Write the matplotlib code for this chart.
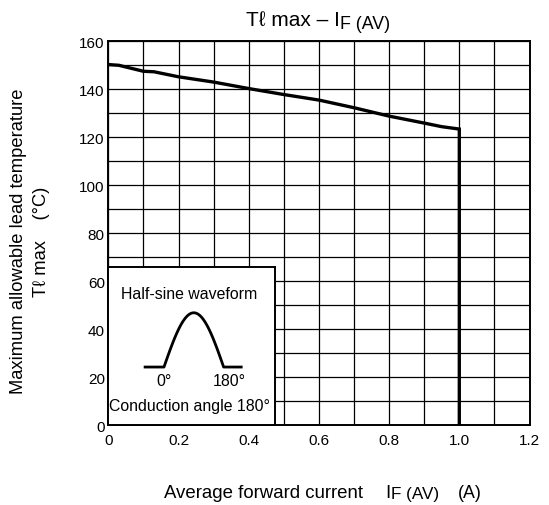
import numpy as np
import matplotlib
matplotlib.use("Agg")
import matplotlib.pyplot as plt

plt.rcParams["font.family"] = ["Liberation Sans", "DejaVu Sans"]

W, H = 549, 506

# derating curve
current = [0, 0.03, 0.1, 0.13, 0.2, 0.3, 0.4, 0.5, 0.6, 0.7, 0.8, 0.9, 0.95, 1.0, 1.0]
lead_temp = [150.3, 150.0, 147.5, 147.3, 145.2, 143.0, 140.3, 137.8, 135.5,
             132.3, 128.8, 125.9, 124.4, 123.4, 0]

x_ticks = [0, 0.2, 0.4, 0.6, 0.8, 1.0, 1.2]
x_tick_labels = ["0", "0.2", "0.4", "0.6", "0.8", "1.0", "1.2"]
y_ticks = [0, 20, 40, 60, 80, 100, 120, 140, 160]

# inset waveform, phase in degrees
wave_phase = [-57, 0, 0, 180, 180, 233]


def pieced_text(fig, x_center, y_base, parts):
    # parts: (text, size, drop in px, gap before in px); placed left to right
    renderer = fig.canvas.get_renderer()
    items = []
    total = 0
    for s, size, drop, gap in parts:
        t = fig.text(0, 0, s, fontsize=size, ha="left", va="baseline")
        w = t.get_window_extent(renderer).width
        items.append((t, drop, gap, w))
        total += gap + w
    x = x_center - total / 2
    for t, drop, gap, w in items:
        x += gap
        t.set_position((x / W, 1 - (y_base + drop) / H))
        x += w


fig = plt.figure(figsize=(W / 100, H / 100), dpi=100)
ax = fig.add_axes([108.3 / W, 1 - 426 / H, 421.2 / W, 383.7 / H])

ax.plot(current, lead_temp, color="black", lw=2.4, solid_joinstyle="miter", zorder=5)

ax.set_xlim(0, 1.2)
ax.set_ylim(0, 160)
ax.set_xticks(x_ticks)
ax.set_xticklabels(x_tick_labels)
ax.set_yticks(y_ticks)
ax.set_xticks(np.arange(0, 1.21, 0.1), minor=True)
ax.set_yticks(np.arange(0, 161, 10), minor=True)
ax.grid(which="both", color="black", lw=0.9)
ax.tick_params(which="both", length=0, labelsize=11, colors="black")
ax.tick_params(axis="x", pad=5.5)
ax.tick_params(axis="y", pad=2.5)
for sp in ax.spines.values():
    sp.set_linewidth(1.4)

pieced_text(fig, 318, 26.5, [("T\u2113 max – I", 15, 0, 0),
                              ("F (AV)", 12.8, 2.5, 0)])
pieced_text(fig, 323, 498, [("Average forward current", 13.4, 0, 0),
                             ("I", 13.4, 0, 22),
                             ("F (AV)", 12.3, 1.5, 0),
                             ("(A)", 12.8, 0, 19)])

fig.text(18.3 / W, 1 - 241 / H, "Maximum allowable lead temperature",
         rotation=90, ha="center", va="center", fontsize=13.2)
fig.text(41.7 / W, 1 - 242 / H, "T\u2113 max    (°C)",
         rotation=90, ha="center", va="center", fontsize=13.2)

# inset box with the half-sine waveform
ins = ax.inset_axes([0, 0, 0.395, 0.413], zorder=6)
ins.set_facecolor("white")
ins.set_xticks([])
ins.set_yticks([])
for sp in ins.spines.values():
    sp.set_linewidth(1.4)
ins.set_xlim(-168, 334)
ins.set_ylim(-1.068, 1.852)

phase = np.linspace(0, 180, 60)
wave_x = [wave_phase[0], wave_phase[1]] + list(phase) + [wave_phase[4], wave_phase[5]]
wave_y = [0, 0] + list(np.sin(np.radians(phase))) + [0, 0]
ins.plot(wave_x, wave_y, color="black", lw=2.0)

ins.text(77, 1.357, "Half-sine waveform", ha="center", va="center", fontsize=11.4)
ins.text(0, -0.25, "0°", ha="center", va="center", fontsize=11.4)
ins.text(197, -0.25, "180°", ha="center", va="center", fontsize=11.4)
ins.text(78, -0.71, "Conduction angle 180°", ha="center", va="center", fontsize=11.4)

fig.savefig("out.png", dpi=100)
